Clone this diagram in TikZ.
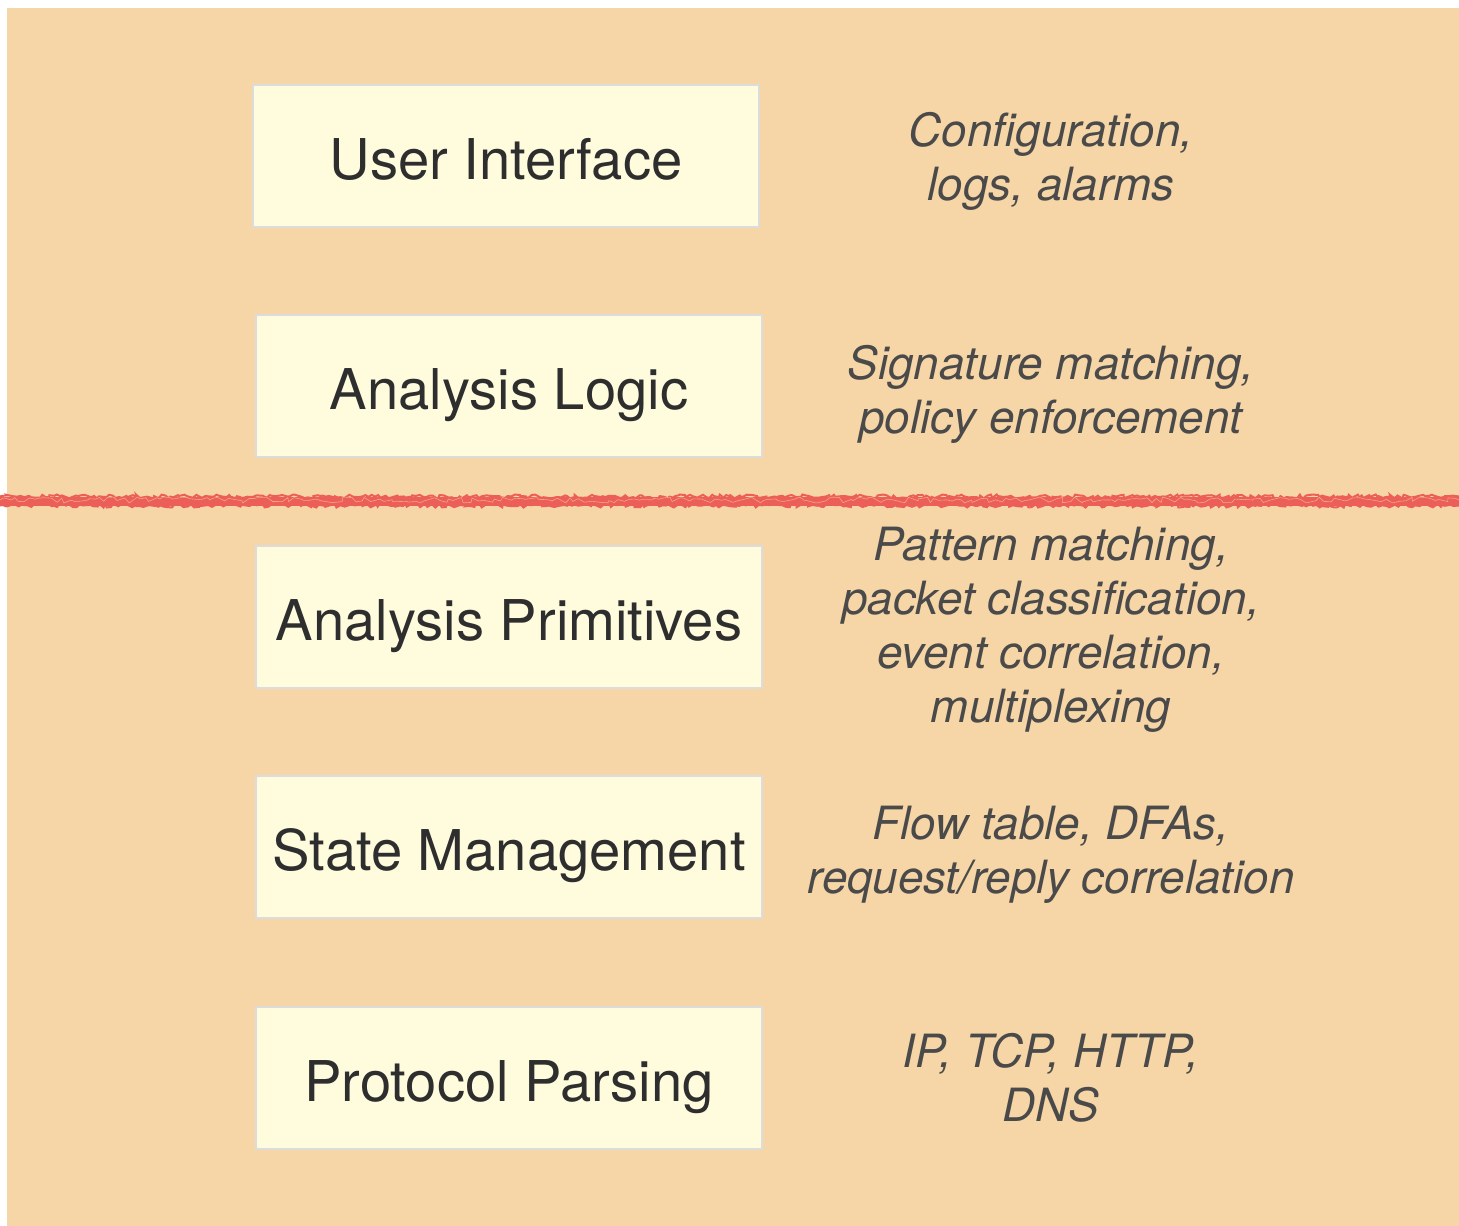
\documentclass[tikz,border=0pt]{standalone}
\usepackage{fontspec}
\setmainfont{TeX Gyre Heros}
\usetikzlibrary{decorations.pathmorphing}
\definecolor{bgorange}{HTML}{F6D5A6}
\definecolor{boxfill}{HTML}{FFFBDD}
\definecolor{boxline}{HTML}{DCDCDC}
\definecolor{boxtext}{HTML}{2E2E2E}
\definecolor{notetext}{HTML}{4A4A4A}
\definecolor{redline}{HTML}{EC5E58}
\begin{document}
\begin{tikzpicture}[x=1pt,y=-1pt,
  layerbox/.style={draw=boxline, line width=2pt, fill=boxfill, minimum width=506pt, minimum height=142pt, inner sep=0pt, text=boxtext, text height=46pt, text depth=0pt, font=\fontsize{56.2}{60}\selectfont},
  note/.style={align=center, text=notetext, font=\fontsize{45.8}{54}\selectfont\itshape, inner sep=0pt}
]
\useasboundingbox (0,0) rectangle (1459,1226);
\fill[white] (0,0) rectangle (1459,1226);
\fill[bgorange] (7,8) rectangle (1459,1226);

\node[layerbox] (ui) at (506,156) {User Interface};
\node[layerbox] (al) at (509,386) {Analysis Logic};
\node[layerbox] (ap) at (509,617) {Analysis Primitives};
\node[layerbox] (sm) at (509,847) {State Management};
\node[layerbox] (pp) at (509,1078) {Protocol Parsing};

\node[note] (nui) at (1051,161) {Configuration,\\logs, alarms};
\node[note] (nal) at (1051,394) {Signature matching,\\policy enforcement};
\node[note] (nap) at (1051,630) {Pattern matching,\\packet classification,\\event correlation,\\multiplexing};
\node[note] (nsm) at (1051,854.5) {Flow table, DFAs,\\request/reply correlation};
\node[note] (npp) at (1051,1078) {IP, TCP, HTTP,\\DNS};

\coordinate (rl) at (0,501);
\coordinate (rr) at (1459,501);
\draw[redline, line width=9pt] (rl) -- (rr);
\pgfmathsetseed{7}
\draw[redline, line width=2pt, decorate, decoration={random steps, segment length=3pt, amplitude=2pt}] ([yshift=-4.5pt]rl) -- ([yshift=-4.5pt]rr);
\draw[redline, line width=2pt, decorate, decoration={random steps, segment length=3pt, amplitude=2pt}] ([yshift=4.5pt]rl) -- ([yshift=4.5pt]rr);
\draw[bgorange, opacity=0.6, line width=0.6pt, decorate, decoration={random steps, segment length=5pt, amplitude=3pt}] ([yshift=1pt]rl) -- ([yshift=1pt]rr);
\end{tikzpicture}
\end{document}
